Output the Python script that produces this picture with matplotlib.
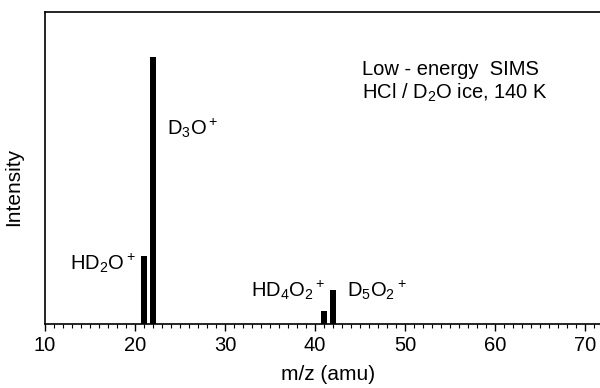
import matplotlib
matplotlib.use("Agg")
import matplotlib.pyplot as plt
from matplotlib.ticker import MultipleLocator

plt.rcParams['font.family'] = ['Liberation Sans', 'DejaVu Sans']
plt.rcParams['mathtext.fontset'] = 'custom'
plt.rcParams['mathtext.rm'] = 'Liberation Sans'
plt.rcParams['mathtext.default'] = 'regular'

# Peak positions (m/z) and relative intensities
mass = [21, 22, 41, 42]
intensity = [25.5, 100, 4.9, 12.7]
labels = [r'HD$_2$O$^+$', r'D$_3$O$^+$', r'HD$_4$O$_2$$^+$', r'D$_5$O$_2$$^+$']

fig = plt.figure(figsize=(6, 3.88), dpi=100)
ax = fig.add_axes([0.075, 0.165, 0.945, 0.804])

ax.bar(mass, intensity, width=0.65, color='black')

ax.set_xlim(10, 73)
ax.set_ylim(0, 117)
ax.xaxis.set_major_locator(MultipleLocator(10))
ax.xaxis.set_minor_locator(MultipleLocator(1))
ax.tick_params(axis='x', which='major', direction='out', length=5, width=1, labelsize=14.5, pad=4)
ax.tick_params(axis='x', which='minor', direction='out', length=3, width=0.8)
ax.set_yticks([])
ax.spines['right'].set_visible(False)
for s in ['left', 'top', 'bottom']:
    ax.spines[s].set_linewidth(1.2)

ax.set_xlabel('m/z (amu)', fontsize=15, labelpad=7)
ax.set_ylabel('Intensity', fontsize=15)
ax.yaxis.set_label_coords(-0.038, 0.44)

fs = 14.5
# peak labels
ax.text(23.6, 70.9, labels[1], fontsize=fs, va='baseline', ha='left')
ax.text(20.1, 20.3, labels[0], fontsize=fs, va='baseline', ha='right')
ax.text(32.9, 10.1, labels[2], fontsize=fs, va='baseline', ha='left')
ax.text(43.6, 10.1, labels[3], fontsize=fs, va='baseline', ha='left')

ax.text(45.2, 93.4, 'Low - energy  SIMS', fontsize=fs, va='baseline', ha='left')
ax.text(45.2, 84.4, r'HCl / D$_2$O ice, 140 K', fontsize=fs, va='baseline', ha='left')

fig.savefig('out.png', dpi=100)
